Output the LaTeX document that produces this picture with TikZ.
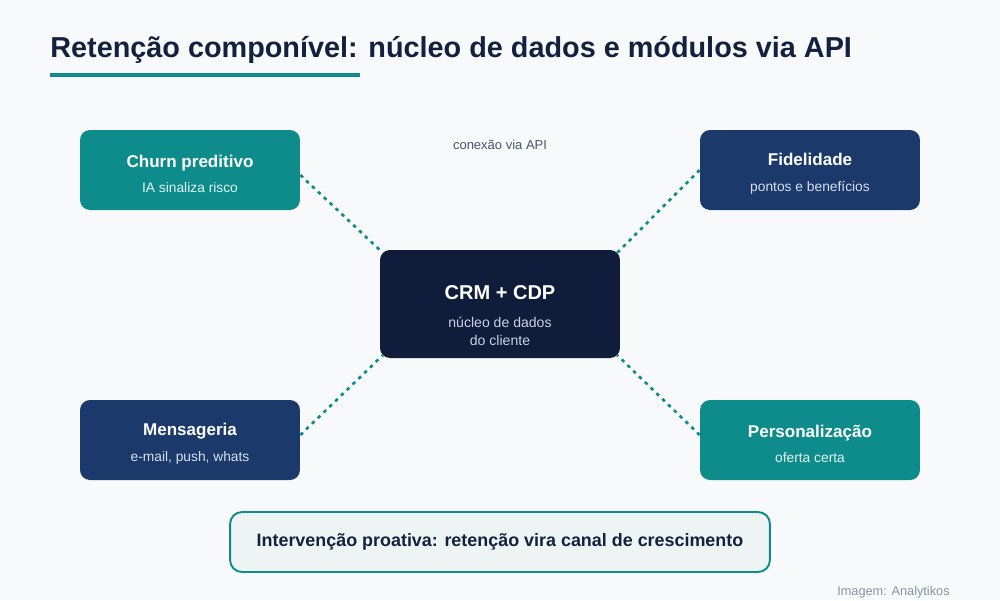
\documentclass[tikz,border=0pt]{standalone}
\usepackage{fontspec}
\setmainfont{Liberation Sans}
\usepackage{tikz}
\usetikzlibrary{positioning}

\definecolor{bgpage}{HTML}{F7F9FB}
\definecolor{tealmod}{HTML}{0E8C8C}
\definecolor{navymod}{HTML}{1B3A6B}
\definecolor{corenavy}{HTML}{0F1D3B}
\definecolor{titlenavy}{HTML}{13213F}
\definecolor{softteal}{HTML}{EEF4F4}
\definecolor{graytext}{HTML}{4A5568}
\definecolor{creditgray}{HTML}{8A94A6}
\definecolor{coresub}{HTML}{C8D2E3}
\definecolor{tealsub}{HTML}{E3F3F2}
\definecolor{navysub}{HTML}{D5DEEE}

\newcommand{\modname}[1]{\rule{0pt}{11.5pt}{\bfseries\fontsize{9.7}{10}\selectfont #1}}
\newcommand{\modsub}[2]{{\color{#1}\fontsize{7.85}{9}\selectfont #2}}

\begin{document}
\begin{tikzpicture}[x=0.02cm, y=-0.02cm,
	module/.style = {rounded corners=0.2cm, minimum width=4.4cm, minimum height=1.6cm,
		align=center, text=white, inner sep=0pt, font=\fontsize{7.85}{9}\selectfont},
	tealbox/.style = {module, fill=tealmod},
	navybox/.style = {module, fill=navymod},
	apilink/.style = {tealmod, line width=1.5pt, dash pattern=on 2pt off 2.6pt}]

	% fundo e titulo
	\fill[bgpage] (0,0) rectangle (1000,600);
	\node (titulo) [anchor=base west, inner sep=0pt, text=titlenavy] at (50,57)
		{\bfseries\fontsize{16.4}{18}\selectfont Retenção componível: núcleo de dados e módulos via API};
	\draw[tealmod, line width=2.3pt] (50,75) -- (360,75);

	% nucleo
	\node (core) [module, fill=corenavy, minimum width=4.8cm, minimum height=2.16cm,
		font=\fontsize{8}{10.2}\selectfont] at (500,304)
		{\rule{0pt}{21pt}{\bfseries\fontsize{11.4}{14}\selectfont CRM + CDP}\\[5.5pt]
		 \modsub{coresub}{\fontsize{8}{10}\selectfont núcleo de dados}\\\modsub{coresub}{\fontsize{8}{10}\selectfont do cliente}};

	% modulos
	\node (churn) [tealbox] at (190,170) {\modname{Churn preditivo}\\[5.5pt]\modsub{tealsub}{IA sinaliza risco}};
	\node (fidel) [navybox] at (810,170) {\modname{Fidelidade}\\[5.5pt]\modsub{navysub}{pontos e benefícios}};
	\node (msg) [navybox] at (190,440) {\modname{Mensageria}\\[5.5pt]\modsub{navysub}{e-mail, push, whats}};
	\node (perso) [tealbox] at (810,440) {\modname{Personalização}\\[5.5pt]\modsub{tealsub}{oferta certa}};

	\node (api) [text=graytext, inner sep=0pt] at (500,145) {\fontsize{7.4}{8}\selectfont conexão via API};

	% conexoes
	\draw[apilink] ([yshift=-0.1cm]churn.east) -- ([shift={(0.06cm,-0.06cm)}]core.north west);
	\draw[apilink] (fidel.west) -- ([shift={(-0.06cm,-0.06cm)}]core.north east);
	\draw[apilink] ([yshift=0.1cm]msg.east) -- ([shift={(0.06cm,0.06cm)}]core.south west);
	\draw[apilink] ([yshift=0.1cm]perso.west) -- ([shift={(-0.06cm,0.06cm)}]core.south east);

	% rodape
	\node (resumo) [draw=tealmod, line width=1.1pt, fill=softteal, rounded corners=0.24cm,
		minimum width=10.8cm, minimum height=1.2cm, text=titlenavy] at (500,542)
		{\bfseries\fontsize{10.2}{12}\selectfont Intervenção proativa: retenção vira canal de crescimento};
	\node (credito) [anchor=base east, inner sep=0pt, text=creditgray] at (950,595)
		{\fontsize{7.25}{8}\selectfont Imagem: Analytikos};
\end{tikzpicture}
\end{document}
